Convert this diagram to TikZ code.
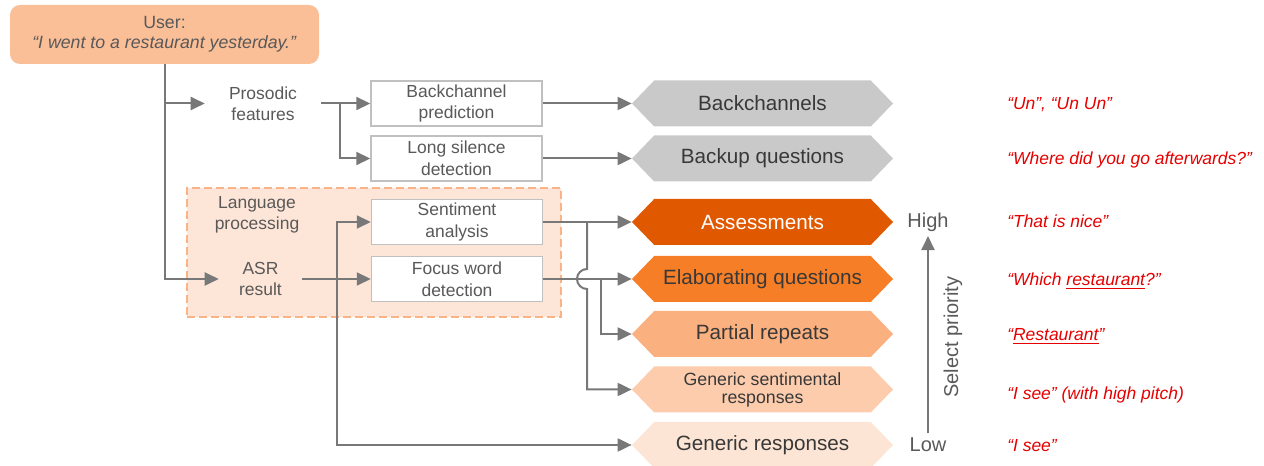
\documentclass[tikz,border=0pt]{standalone}
\usepackage{fontspec}
\setmainfont{Liberation Sans}
\usetikzlibrary{arrows.meta,shapes.symbols}

\definecolor{lineg}{RGB}{120,120,120}
\definecolor{txtg}{RGB}{89,89,89}
\definecolor{boxg}{RGB}{192,192,192}
\definecolor{hexg}{RGB}{201,201,201}
\definecolor{usrc}{RGB}{251,191,152}
\definecolor{lpfill}{RGB}{253,230,216}
\definecolor{lpdraw}{RGB}{250,178,135}
\definecolor{asmc}{RGB}{224,88,0}
\definecolor{elabc}{RGB}{246,126,38}
\definecolor{partc}{RGB}{251,176,128}
\definecolor{gsrc}{RGB}{252,204,172}
\definecolor{genc}{RGB}{253,229,213}
\definecolor{quotec}{RGB}{230,0,0}

\newcommand\smallfs{\fontsize{13.1}{15.8}\selectfont}
\newcommand\bigfs{\fontsize{15.5}{18}\selectfont}

\tikzset{
  conn/.style={draw=lineg, line width=1.5pt, -{Triangle[length=10.5pt,width=9.75pt]}},
  lbl/.style={text=txtg, font=\smallfs, align=center},
  prio/.style={text=txtg, font=\fontsize{15}{18}\selectfont},
  procbox/.style={draw=boxg, line width=1.1pt, fill=white, minimum width=128.25pt,
    minimum height=33.75pt, inner sep=0pt, text=txtg, font=\fontsize{13.1}{16.2}\selectfont,
    align=center},
  hexbox/.style={signal, signal to=west and east, signal pointer angle=92,
    minimum width=195.75pt, minimum height=34.5pt, inner sep=0pt, fill=#1,
    text=black!78, font=\bigfs, align=center},
  quote/.style={anchor=base west, inner sep=0pt, text=quotec, font=\itshape\smallfs},
}

\begin{document}
\begin{tikzpicture}[x=0.75pt, y=-0.75pt]
\useasboundingbox (0,0) rectangle (1264,466);

% input and language processing area
\node[fill=lpfill, draw=lpdraw, line width=1.1pt, dash pattern=on 6pt off 3pt,
  minimum width=280.5pt, minimum height=96.75pt] (langarea) at (374,252.5) {};
\node[fill=usrc, rounded corners=7.5pt, minimum width=231.75pt, minimum height=44.25pt,
  text=txtg, font=\fontsize{13.3}{15.2}\selectfont, align=center] (user) at (164.5,34.5)
  {User:\\\textit{“I went to a restaurant yesterday.”}};
\node[lbl, minimum width=87pt] (pros) at (263,103.5) {Prosodic\\features};
\node[lbl] (lang) at (257,215) {Language\\processing};
\node[lbl, minimum width=62.25pt] (asr) at (260.5,279) {ASR\\result};

% processing boxes
\node[procbox] (bcp) at (456.5,103.5) {Backchannel\\prediction};
\node[procbox] (lsd) at (456.5,158.5) {Long silence\\detection};
\node[procbox] (sent) at (457,222) {Sentiment\\analysis};
\node[procbox] (focus) at (457,279) {Focus word\\detection};

% responses
\node[hexbox=hexg] (bch) at (762.5,103.5) {Backchannels};
\node[hexbox=hexg] (bup) at (762.5,158.5) {Backup questions};
\node[hexbox=asmc, text=white] (asm) at (762.5,222) {Assessments};
\node[hexbox=elabc] (elab) at (762.5,279) {Elaborating questions};
\node[hexbox=partc] (part) at (762.5,334) {Partial repeats};
\node[hexbox=gsrc, font=\fontsize{13.3}{13.5}\selectfont] (gsr) at (762.5,389.5) {Generic sentimental\\responses};
\node[hexbox=genc] (gen) at (762.5,445) {Generic responses};

% connectors
\coordinate (j1) at (340,103.5);
\coordinate (j2) at (337,279);
\coordinate (j3) at (601,279);
\coordinate (j4) at (587,222);
\coordinate (j5) at (587,269);
\draw[conn] (user.south) |- (pros.west);
\draw[conn] (user.south) |- (asr.west);
\draw[conn] (pros.east) -- (bcp.west);
\draw[conn] (j1) |- (lsd.west);
\draw[conn] (bcp.east) -- (bch.west);
\draw[conn] (lsd.east) -- (bup.west);
\draw[conn] (asr.east) -- (focus.west);
\draw[conn] (j2) |- (sent.west);
\draw[conn] (j2) |- (gen.west);
\draw[conn] (sent.east) -- (asm.west);
\draw[conn] (focus.east) -- (elab.west);
\draw[conn] (j3) |- (part.west);
\draw[conn] (j4) -- (j5) arc[start angle=90, end angle=270, radius=7.5pt] |- (gsr.west);

% priority
\node[prio] (hi) at (928,222) {High};
\node[prio] (lo) at (928,445) {Low};
\node[prio, rotate=90] (selp) at (953,337) {Select priority};
\draw[conn] (lo.north) -- (hi.south);

% example utterances
\node[quote] (qbch) at (1007,110) {“Un”, “Un Un”};
\node[quote] (qbup) at (1007,165) {“Where did you go afterwards?”};
\node[quote] (qasm) at (1007,228) {“That is nice”};
\node[quote] (qelab) at (1007,286) {“Which \underline{restaurant}?”};
\node[quote] (qpart) at (1007,341) {“\underline{Restaurant}”};
\node[quote] (qgsr) at (1007,399.5) {“I see” (with high pitch)};
\node[quote] (qgen) at (1007,451) {“I see”};
\end{tikzpicture}
\end{document}
